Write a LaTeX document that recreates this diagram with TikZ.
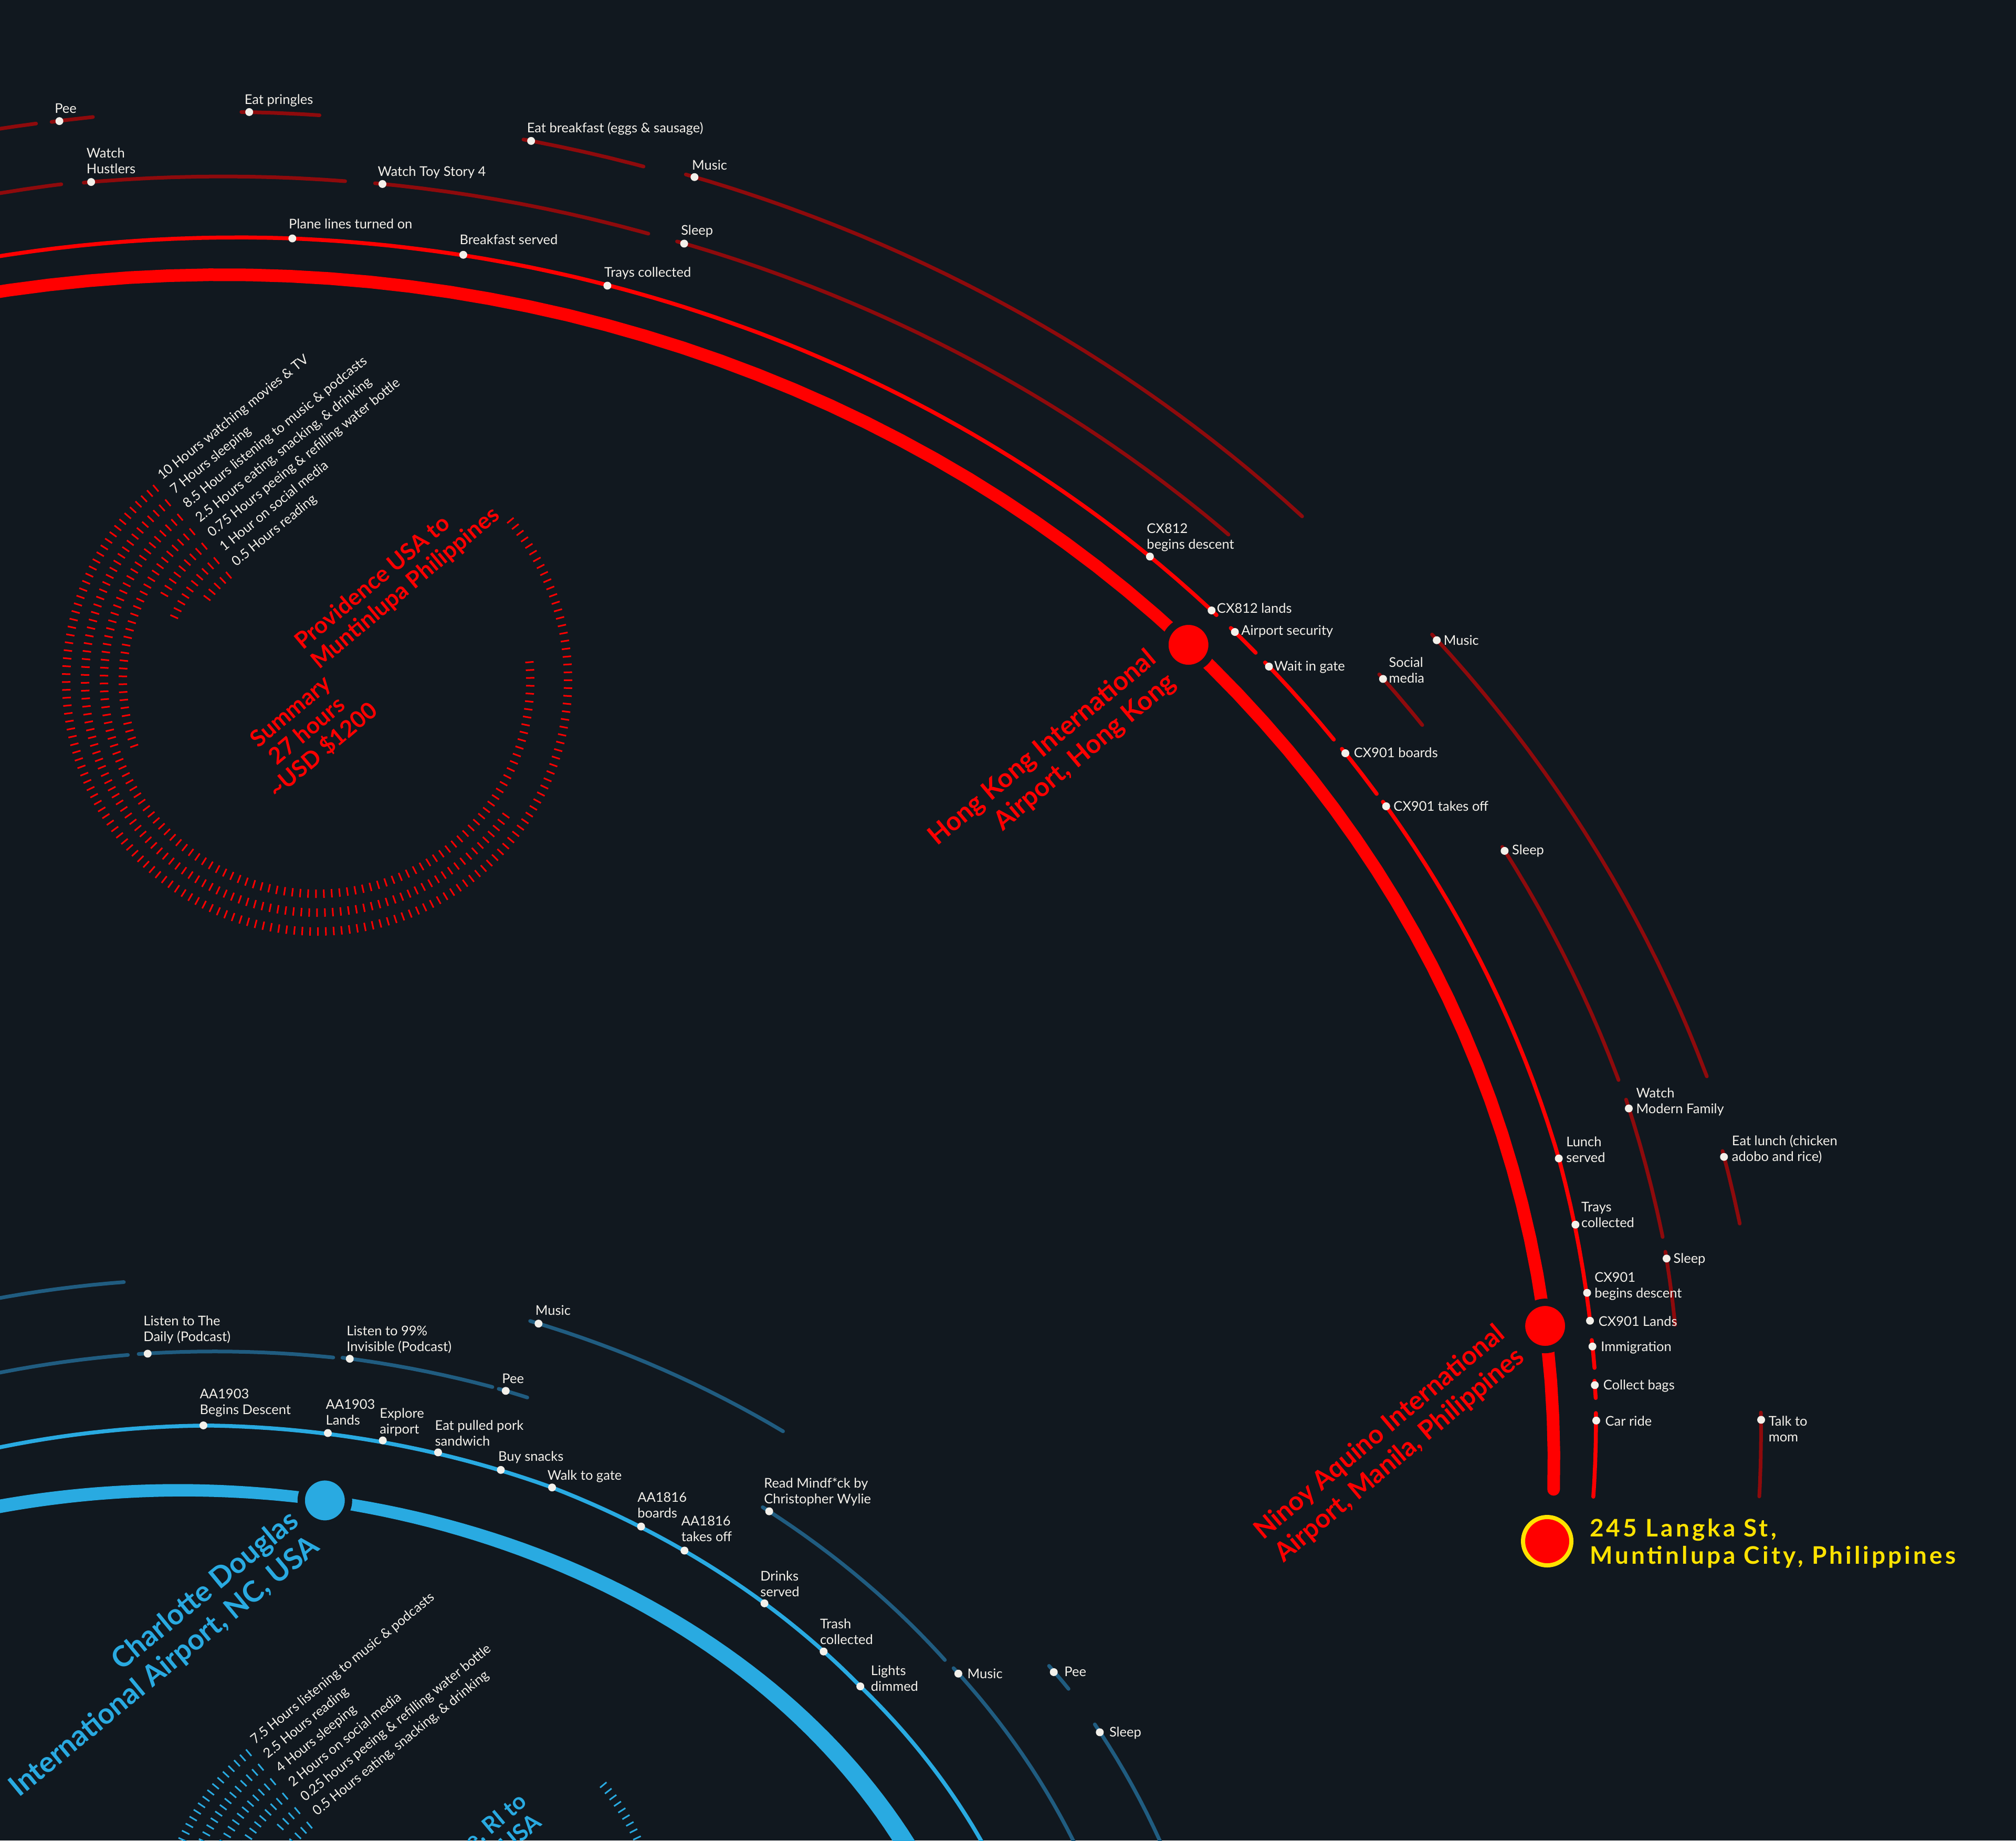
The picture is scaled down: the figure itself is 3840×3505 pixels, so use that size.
\documentclass[tikz,border=0pt]{standalone}
\usepackage{fontspec}
\setmainfont{Lato}
\usetikzlibrary{positioning}

\definecolor{bgc}{RGB}{17,24,31}
\definecolor{redc}{RGB}{255,0,0}
\definecolor{dredc}{RGB}{142,10,12}
\definecolor{bluec}{RGB}{41,170,225}
\definecolor{dbluec}{RGB}{32,92,128}
\definecolor{dotc}{RGB}{243,240,234}
\definecolor{yelc}{RGB}{255,226,0}

\tikzset{
  rthick/.style={draw=redc, line width=24pt, line cap=round},
  rthin/.style={draw=redc, line width=7.5pt, line cap=round},
  rdark/.style={draw=dredc, line width=7pt, line cap=round},
  bthin/.style={draw=bluec, line width=7.5pt, line cap=round},
  bdark/.style={draw=dbluec, line width=7pt, line cap=round},
  evdot/.style={circle, fill=dotc, inner sep=0pt, minimum size=15pt},
  lbl/.style={text=dotc, inner sep=0pt, anchor=base west, font=\fontsize{25.5}{30}\selectfont},
  portnode/.style={circle, draw=bgc, line width=14pt, minimum size=90pt, inner sep=0pt},
  bigred/.style={text=redc, inner sep=0pt, font=\bfseries\fontsize{50}{58}\selectfont},
  bigblue/.style={text=bluec, inner sep=0pt, font=\bfseries\fontsize{55}{62}\selectfont},
  sumtxt/.style={inner sep=0pt, font=\bfseries\fontsize{44}{48}\selectfont},
  hrtick/.style={line width=3pt},
}

\newcommand{\rseg}[5]{\draw[#1] plot[domain=#2:#3, samples=60, variable=\q]
  ({425+(2535+(#4)+((#5)-(#4))*(\q-(#2))/((#3)-(#2)))*cos(\q)},{-2785+(2262+(#4)+((#5)-(#4))*(\q-(#2))/((#3)-(#2)))*sin(\q)});}
\newcommand{\bseg}[5]{\draw[#1] plot[domain=#2:#3, samples=60, variable=\q]
  ({344+(1537+(#4)+((#5)-(#4))*(\q-(#2))/((#3)-(#2)))*cos(\q)},{-4038+(1200+(#4)+((#5)-(#4))*(\q-(#2))/((#3)-(#2)))*sin(\q)});}
\newcommand{\rdot}[3]{\node[evdot] (#1) at ({425+(2535+#3)*cos(#2)},{-2785+(2262+#3)*sin(#2)}) {};}
\newcommand{\bdot}[3]{\node[evdot] (#1) at ({344+(1537+#3)*cos(#2)},{-4038+(1200+#3)*sin(#2)}) {};}
\newcommand{\lab}[4]{\node[lbl] at ([shift={(#2,#3)}]#1.center) {#4};}
\newcommand{\two}[2]{\vtop{\halign{##\hfil\cr#1\cr#2\cr}}}
\newcommand{\rtwo}[2]{\vtop{\halign{\hfil##\cr#1\cr#2\cr}}}
\newcommand{\cthree}[3]{\vtop{\halign{\hfil##\hfil\cr#1\cr#2\cr#3\cr}}}
\newcommand{\sumring}[5]{%
  \pgfmathsetmacro\stp{15/#2*57.2958}%
  \pgfmathtruncatemacro\nt{#4/\stp}%
  \pgfmathsetmacro\rin{#2-8}%
  \pgfmathsetmacro\rout{#2+8}%
  \foreach \k in {0,...,\nt}{%
    \pgfmathsetmacro\tang{#3+\k*\stp}%
    \draw[hrtick,#5] ([shift={(\tang:\rin)}]#1) -- ([shift={(\tang:\rout)}]#1);}}

\begin{document}
\begin{tikzpicture}[x=1pt,y=1pt]
\useasboundingbox (0,0) rectangle (3840,-3505);
\fill[bgc] (0,0) rectangle (3840,-3505);
\clip (0,0) rectangle (3840,-3505);

% summary, red trip
\coordinate (rsum) at (604,-1296);
\sumring{rsum}{478}{130}{271}{redc}
\sumring{rsum}{442}{130}{194.6}{redc}
\sumring{rsum}{406}{130}{236.4}{redc}
\sumring{rsum}{370}{130}{71.8}{redc}
\sumring{rsum}{334}{130}{20.9}{redc}
\sumring{rsum}{298}{130}{27.9}{redc}
\sumring{rsum}{262}{130}{13.9}{redc}
\foreach \rr/\txt [count=\i] in {478/{10 Hours watching movies \& TV}, 442/{7 Hours sleeping},
  406/{8.5 Hours listening to music \& podcasts}, 370/{2.5 Hours eating, snacking, \& drinking},
  334/{0.75 Hours peeing \& refilling water bottle}, 298/{1 Hour on social media}, 262/{0.5 Hours reading}}{
  \pgfmathsetmacro\tang{127.75-(\i-1)*0.39}
  \pgfmathsetmacro\rad{\rr+4}
  \node[lbl, rotate=39] at ([shift={(\tang:\rad)}]rsum) {\txt};}
\node[sumtxt, text=redc, anchor=base west, rotate=40] at ([shift={(-27,57)}]rsum) {\two{Providence USA to}{Muntinlupa Philippines}};
\node[sumtxt, text=redc, anchor=base, rotate=40] at ([shift={(-41,-70)}]rsum) {\cthree{Summary}{27 hours}{\textasciitilde USD \$1200}};

% summary, blue trip
\coordinate (bsum) at (781,-3704);
\sumring{bsum}{478}{130}{271}{bluec}
\sumring{bsum}{442}{130}{90}{bluec}
\sumring{bsum}{406}{130}{144.5}{bluec}
\sumring{bsum}{370}{130}{72}{bluec}
\sumring{bsum}{334}{130}{9}{bluec}
\sumring{bsum}{298}{130}{18}{bluec}
\foreach \rr/\txt [count=\i] in {478/{7.5 Hours listening to music \& podcasts}, 442/{2.5 Hours reading},
  406/{4 Hours sleeping}, 370/{2 Hours on social media},
  334/{0.25 hours peeing \& refilling water bottle}, 298/{0.5 Hours eating, snacking, \& drinking}}{
  \pgfmathsetmacro\tang{127.75-(\i-1)*0.39}
  \pgfmathsetmacro\rad{\rr+4}
  \node[lbl, rotate=39] at ([shift={(\tang:\rad)}]bsum) {\txt};}
\node[sumtxt, text=bluec, anchor=base west, rotate=40] at ([shift={(-31,54)}]bsum) {\two{Providence, RI to}{Boston, MA USA}};

% red tracks
\rseg{rthick}{-1.3}{101}{0}{0}
\rseg{rthin}{87.1}{101}{72}{66}
\rseg{rthin}{47.5}{87.1}{78}{72}
\rseg{rthin}{43.6}{47.5}{78}{78}
\rseg{rthin}{41.2}{42.75}{79}{79}
\rseg{rthin}{36.0}{40.6}{80}{79}
\rseg{rthin}{32.9}{35.45}{82}{81}
\rseg{rthin}{14.25}{32.45}{90}{83}
\rseg{rthin}{6.6}{14.25}{86}{90}
\rseg{rthin}{4.4}{5.7}{85}{85}
\rseg{rthin}{3.0}{3.8}{83}{83}
\rseg{rthin}{-1.6}{2.3}{76}{82}
\rseg{rdark}{96.5}{101}{188}{183}
\rseg{rdark}{85.1}{95.6}{187}{187}
\rseg{rdark}{72.7}{83.9}{189}{188}
\rseg{rdark}{45.7}{71.5}{207}{190}
\rseg{rdark}{34.3}{37.1}{230}{226}
\rseg{rdark}{16.9}{28.1}{243}{227}
\rseg{rdark}{9.85}{16.0}{248}{245}
\rseg{rdark}{6.0}{9.2}{246}{248}
\rseg{rdark}{97.2}{101}{308}{305}
\rseg{rdark}{95.0}{96.6}{310}{308}
\rseg{rdark}{86.3}{89.3}{309}{310}
\rseg{rdark}{73.65}{78.4}{310}{310}
\rseg{rdark}{44.1}{72.0}{327}{317}
\rseg{rdark}{16.0}{37.1}{405}{352}
\rseg{rdark}{9.85}{12.9}{397}{395}
\rseg{rdark}{-1.4}{2.05}{392}{396}

% blue tracks
\fill[bluec] plot[domain=80:105, samples=40, variable=\q] ({344+(1537+(22+4*(\q-80)/25)/2)*cos(\q)},{-4038+(1200+(22+4*(\q-80)/25)/2)*sin(\q)})
  -- plot[domain=80:105, samples=40, variable=\q] ({344+(1537-(22+4*(105-\q)/25)/2)*cos(185-\q)},{-4038+(1200-(22+4*(105-\q)/25)/2)*sin(185-\q)}) -- cycle;
\fill[bluec] plot[domain=12:80, samples=60, variable=\q] ({344+(1537+(22+18*(80-\q)/68)/2)*cos(\q)},{-4038+(1200+(22+18*(80-\q)/68)/2)*sin(\q)})
  -- plot[domain=12:80, samples=60, variable=\q] ({344+(1537-(22+18*(\q-12)/68)/2)*cos(92-\q)},{-4038+(1200-(22+18*(\q-12)/68)/2)*sin(92-\q)}) -- cycle;
\bseg{bthin}{88.1}{105}{124}{108}
\bseg{bthin}{64.9}{88.1}{131}{124}
\bseg{bthin}{38.7}{64.9}{122}{131}
\bseg{bthin}{15}{38.7}{131}{122}
\bseg{bdark}{93.2}{104}{260}{248}
\bseg{bdark}{80.75}{92.55}{272}{261}
\bseg{bdark}{70.9}{80.2}{278}{274}
\bseg{bdark}{68.66}{70.5}{278}{278}
\bseg{bdark}{36.5}{52.3}{274}{276}
\bseg{bdark}{12}{35.7}{290}{276}
\bseg{bdark}{93.2}{104}{399}{388}
\bseg{bdark}{54.1}{70.1}{420}{419}
\bseg{bdark}{30.4}{32.3}{424}{420}
\bseg{bdark}{12}{27.6}{442}{428}

% airports and home
\node[portnode, fill=redc] (hkg) at ({425+2535*cos(43.5)},{-2785+2262*sin(43.5)}) {};
\node[portnode, fill=redc] (mnl) at ({425+2535*cos(6.6)},{-2785+2262*sin(6.6)}) {};
\node[portnode, fill=bluec] (clt) at ({344+1537*cos(79.7)},{-4038+1200*sin(79.7)}) {};
\node[circle, fill=redc, draw=yelc, line width=8pt, minimum size=92pt, inner sep=0pt] (home) at (2947,-2935) {};
\node[anchor=base west, text=yelc, inner sep=0pt, font=\bfseries\fontsize{46}{52}\selectfont\addfontfeature{LetterSpace=11}] at ([shift={(81,9)}]home.center) {\two{245 Langka St,}{Muntinlupa City, Philippines}};
\node[bigred, anchor=base east, rotate=40] at ([shift={(-59,-32)}]hkg.center) {\rtwo{Hong Kong International}{Airport, Hong Kong}};
\node[bigred, anchor=base east, rotate=40] at ([shift={(-74,-20)}]mnl.center) {\rtwo{Ninoy Aquino International}{Airport, Manila, Philippines}};
\node[bigblue, anchor=base east, rotate=39.5] at ([shift={(-47,-45)}]clt.center) {\rtwo{Charlotte Douglas}{International Airport, NC, USA}};

% red events
\rdot{pee}{96.3}{308}          \lab{pee}{-9}{15}{Pee}
\rdot{pringles}{89.0}{310}     \lab{pringles}{-9}{15}{Eat pringles}
\rdot{breakfast}{78.1}{310}    \lab{breakfast}{-8}{16}{Eat breakfast (eggs \& sausage)}
\rdot{musicA}{71.65}{317}      \lab{musicA}{-5}{14}{Music}
\rdot{hustlers}{95.3}{187}     \lab{hustlers}{-9}{46}{\two{Watch}{Hustlers}}
\rdot{toystory}{83.6}{188}     \lab{toystory}{-9}{15}{Watch Toy Story 4}
\rdot{sleepA}{71.2}{190}       \lab{sleepA}{-6}{16}{Sleep}
\rdot{planelines}{87.1}{72}    \lab{planelines}{-7}{19}{Plane lines turned on}
\rdot{bfserved}{79.9}{74}      \lab{bfserved}{-7}{20}{Breakfast served}
\rdot{traysA}{73.7}{73}        \lab{traysA}{-6}{17}{Trays collected}
\rdot{descentA}{47.5}{78}      \lab{descentA}{-6}{44}{\two{CX812}{begins descent}}
\rdot{landsA}{43.9}{78}        \lab{landsA}{10}{-5}{CX812 lands}
\rdot{security}{42.5}{79}      \lab{security}{12}{-6}{Airport security}
\rdot{waitgate}{40.35}{79}     \lab{waitgate}{10}{-8}{Wait in gate}
\rdot{social}{36.85}{226}      \lab{social}{11}{22}{\two{Social}{media}}
\rdot{musicB}{36.8}{352}       \lab{musicB}{13}{-9}{Music}
\rdot{boards}{35.2}{81}        \lab{boards}{16}{-8}{CX901 boards}
\rdot{takesoff}{32.2}{83}      \lab{takesoff}{14}{-9}{CX901 takes off}
\rdot{sleepB}{27.9}{227}       \lab{sleepB}{14}{-7}{Sleep}
\rdot{modernfam}{15.6}{245}    \lab{modernfam}{14}{20}{\two{Watch}{Modern Family}}
\rdot{lunchserved}{14.25}{90}  \lab{lunchserved}{14}{23}{\two{Lunch}{served}}
\rdot{eatlunch}{12.65}{395}    \lab{eatlunch}{15}{22}{\two{Eat lunch (chicken}{adobo and rice)}}
\rdot{traysB}{11.1}{90}        \lab{traysB}{11}{25}{\two{Trays}{collected}}
\rdot{sleepC}{8.9}{248}        \lab{sleepC}{13}{-9}{Sleep}
\rdot{descentB}{7.9}{88}       \lab{descentB}{14}{21}{\two{CX901}{begins descent}}
\rdot{landsB}{6.6}{86}         \lab{landsB}{16}{-10}{CX901 Lands}
\rdot{immigration}{5.4}{85}    \lab{immigration}{16}{-9}{Immigration}
\rdot{bags}{3.6}{83}           \lab{bags}{16}{-9}{Collect bags}
\rdot{carride}{1.95}{82}       \lab{carride}{17}{-10}{Car ride}
\rdot{talkmom}{1.75}{396}      \lab{talkmom}{14}{-12}{\two{Talk to}{mom}}

% blue events
\bdot{daily}{92.0}{261}        \lab{daily}{-8}{53}{\two{Listen to The}{Daily (Podcast)}}
\bdot{invisible}{79.75}{274}   \lab{invisible}{-6}{44}{\two{Listen to 99\%}{Invisible (Podcast)}}
\bdot{peeB}{70.05}{278}        \lab{peeB}{-7}{14}{Pee}
\bdot{musicC}{69.6}{419}       \lab{musicC}{-6}{16}{Music}
\bdot{aaDescent}{88.5}{124}    \lab{aaDescent}{-7}{51}{\two{AA1903}{Begins Descent}}
\bdot{aaLands}{80.3}{128}      \lab{aaLands}{-4}{46}{\two{AA1903}{Lands}}
\bdot{explore}{76.65}{131}     \lab{explore}{-6}{43}{\two{Explore}{airport}}
\bdot{pork}{72.9}{131}         \lab{pork}{-6}{42}{\two{Eat pulled pork}{sandwich}}
\bdot{snacks}{68.55}{131}      \lab{snacks}{-5}{17}{Buy snacks}
\bdot{walkgate}{64.9}{131}     \lab{walkgate}{-9}{14}{Walk to gate}
\bdot{aaBoards}{58.25}{130}    \lab{aaBoards}{-7}{47}{\two{AA1816}{boards}}
\bdot{aaOff}{54.8}{128}        \lab{aaOff}{-6}{47}{\two{AA1816}{takes off}}
\bdot{mindf}{51.8}{276}        \lab{mindf}{-10}{45}{\two{Read Mindf*ck by}{Christopher Wylie}}
\bdot{drinks}{48.0}{125}       \lab{drinks}{-8}{43}{\two{Drinks}{served}}
\bdot{trash}{42.45}{123}       \lab{trash}{-7}{44}{\two{Trash}{collected}}
\bdot{lights}{38.7}{122}       \lab{lights}{20}{21}{\two{Lights}{dimmed}}
\bdot{musicD}{35.2}{276}       \lab{musicD}{17}{-9}{Music}
\bdot{peeC}{31.8}{420}         \lab{peeC}{20}{-8}{Pee}
\bdot{sleepD}{27.0}{428}       \lab{sleepD}{18}{-9}{Sleep}
\end{tikzpicture}
\end{document}
